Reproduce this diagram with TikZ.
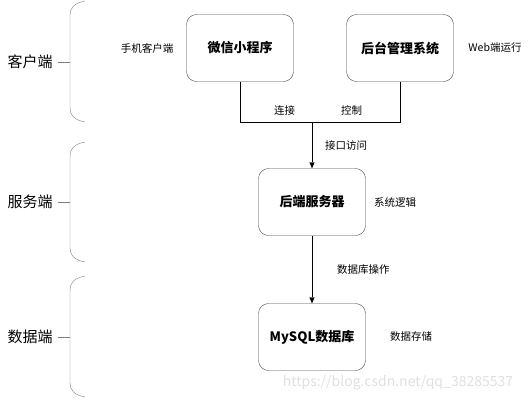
\documentclass[tikz,border=0pt]{standalone}
\usepackage{fontspec}
\setmainfont{Noto Sans CJK SC}
\usepackage{xcolor}
\definecolor{lineGray}{RGB}{128, 128, 128}
\definecolor{boxGray}{RGB}{70, 70, 70}
\usetikzlibrary{positioning,arrows.meta}

\begin{document}
\begin{tikzpicture}[x=1pt, y=-1pt,
  box/.style={draw=boxGray, rounded corners=10pt, minimum width=107pt, minimum height=67pt,
              font=\fontsize{13}{15}\selectfont\bfseries, align=center, inner sep=2pt},
  note/.style={font=\fontsize{10.5}{12}\selectfont, inner sep=1pt},
  side/.style={font=\fontsize{15}{17}\selectfont, inner sep=1pt},
  arr/.style={-{Triangle[length=6pt,width=5pt]}, thin},
  brace/.style={draw=lineGray, thin}
]
\useasboundingbox (0,0) rectangle (529,402);

%% left brackets
\node[side] (kh) at (30,62)  {客户端};
\node[side] (fw) at (30,202) {服务端};
\node[side] (sj) at (30,337) {数据端};
\draw[brace] (85,1) .. controls (74,3) and (70,8) .. (70,15) -- (70,108)
             .. controls (70,115) and (74,120) .. (85,122);
\draw[brace] (85,142) .. controls (74,144) and (70,149) .. (70,156) -- (70,248)
             .. controls (70,255) and (74,260) .. (85,262);
\draw[brace] (85,276) .. controls (74,278) and (70,283) .. (70,290) -- (70,383)
             .. controls (70,390) and (74,395) .. (85,397);
\coordinate (b1) at (70,62);
\coordinate (b2) at (70,202);
\coordinate (b3) at (70,337);
\draw[brace] ([xshift=4pt]kh.east) -- (b1);
\draw[brace] ([xshift=4pt]fw.east) -- (b2);
\draw[brace] ([xshift=4pt]sj.east) -- (b3);

%% client row
\node[box]  (wx) at (240,48) {微信小程序};
\node[box]  (ht) at (400,48) {后台管理系统};
\node[note] (sjkh) at (147,48) {手机客户端};
\node[note] (web)  at (495,48) {Web端运行};
\coordinate (j) at (312,122);
\draw (wx.south) |- (j) node[pos=0.81,above=5pt,note]{连接};
\draw (ht.south) |- (j) node[pos=0.775,above=5pt,note]{控制};

%% server row
\node[box]  (hd) at (312,202) {后端服务器};
\node[note] (xt) at (395,202) {系统逻辑};
\draw[arr] (j) -- (hd.north) node[midway,right=12pt,note]{接口访问};

%% data row
\node[box]  (db) at (312,337) {MySQL数据库};
\node[note] (cc) at (411,337) {数据存储};
\draw[arr] (hd.south) -- (db.north) node[midway,right=24pt,note]{数据库操作};

\node[font=\fontsize{14}{16}\selectfont, text=black!12] (wm) at (398,383) {https://blog.csdn.net/qq\_38285537};
\end{tikzpicture}
\end{document}
